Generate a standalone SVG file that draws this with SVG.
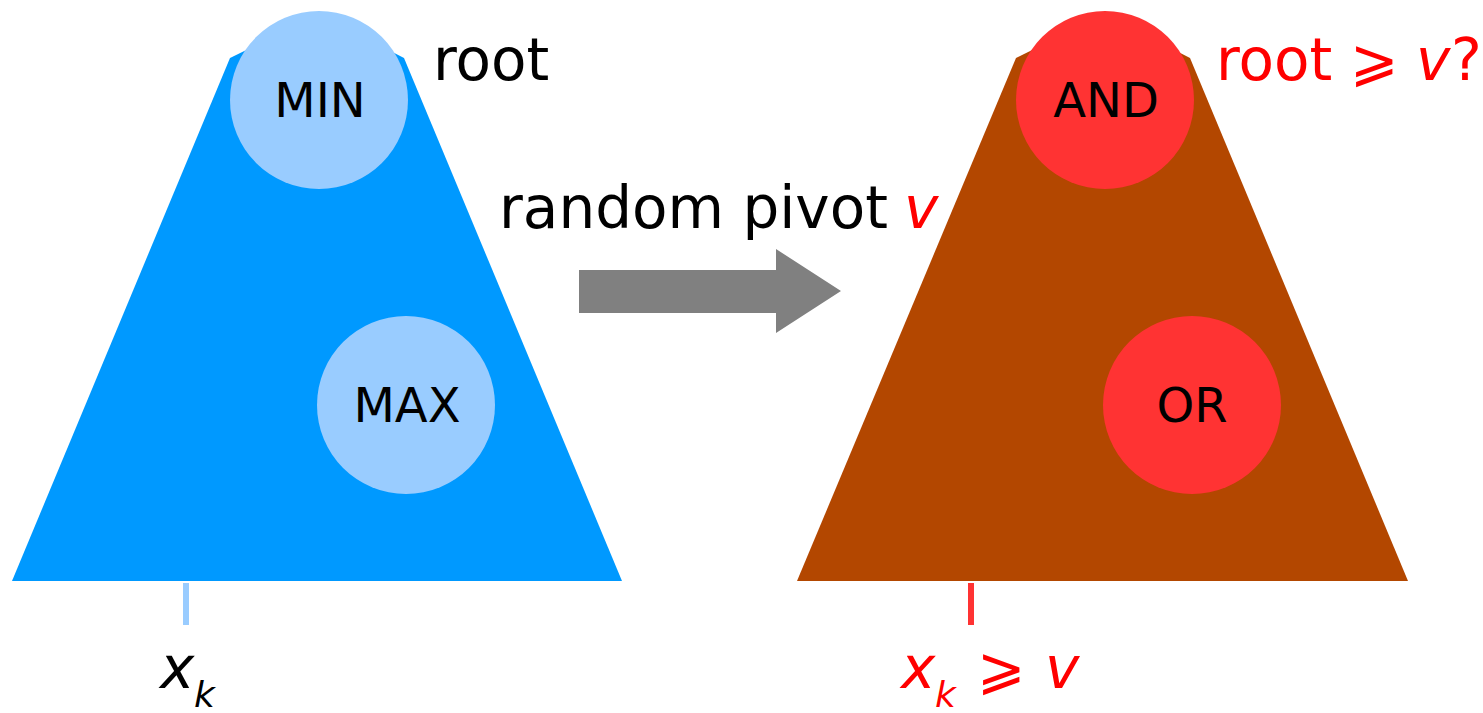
<svg xmlns="http://www.w3.org/2000/svg" width="1483" height="713" viewBox="0 0 1483 713">
<style>
text{font-family:"DejaVu Sans","Noto Sans",sans-serif}
.lbl{font-size:48px;fill:#000;text-anchor:middle}
.big{font-size:58px}
.sub{font-size:36px}
.red{fill:#ff0000}
.it{font-style:italic}
</style>
<rect width="1483" height="713" fill="#fff"/>
<g id="tree-left">
<polygon points="12,581 230,58 319,14 404,58 622,581" fill="#0099ff"/>
<rect x="183" y="583" width="6" height="42" fill="#99ccff"/>
</g>
<g id="node-min">
<circle cx="319" cy="100" r="89" fill="#99ccff"/>
<text class="lbl" x="320" y="117">MIN</text>
</g>
<g id="node-max">
<circle cx="406" cy="405" r="89" fill="#99ccff"/>
<text class="lbl" x="407" y="422">MAX</text>
</g>
<g id="tree-right">
<polygon points="797,581 1016,58 1105,14 1190,58 1408,581" fill="#b34700"/>
<rect x="968" y="583" width="6" height="42" fill="#ff3333"/>
</g>
<g id="node-and">
<circle cx="1105" cy="100" r="89" fill="#ff3333"/>
<text class="lbl" x="1106" y="117">AND</text>
</g>
<g id="node-or">
<circle cx="1192" cy="405" r="89" fill="#ff3333"/>
<text class="lbl" x="1192" y="422">OR</text>
</g>
<g id="connectors">
<polygon points="579,270 776,270 776,249 841,291 776,333 776,313 579,313" fill="#808080"/>
</g>
<g id="labels">
<text class="big" x="433" y="80">root</text>
<text class="big" x="499" y="228">random pivot</text>
<text class="big red it" x="904" y="228">v</text>
<text class="big red" x="1216" y="80">root</text>
<text class="big red" x="1350" y="80">⩾</text>
<text class="big red it" x="1416" y="80">v</text>
<text class="big red" x="1451" y="80">?</text>
<text class="big it" x="160" y="688">x</text>
<text class="sub it" x="194" y="707">k</text>
<text class="big red it" x="901" y="688">x</text>
<text class="sub red it" x="935" y="707">k</text>
<text class="big red" x="977" y="688">⩾</text>
<text class="big red it" x="1045" y="688">v</text>
</g>
</svg>
